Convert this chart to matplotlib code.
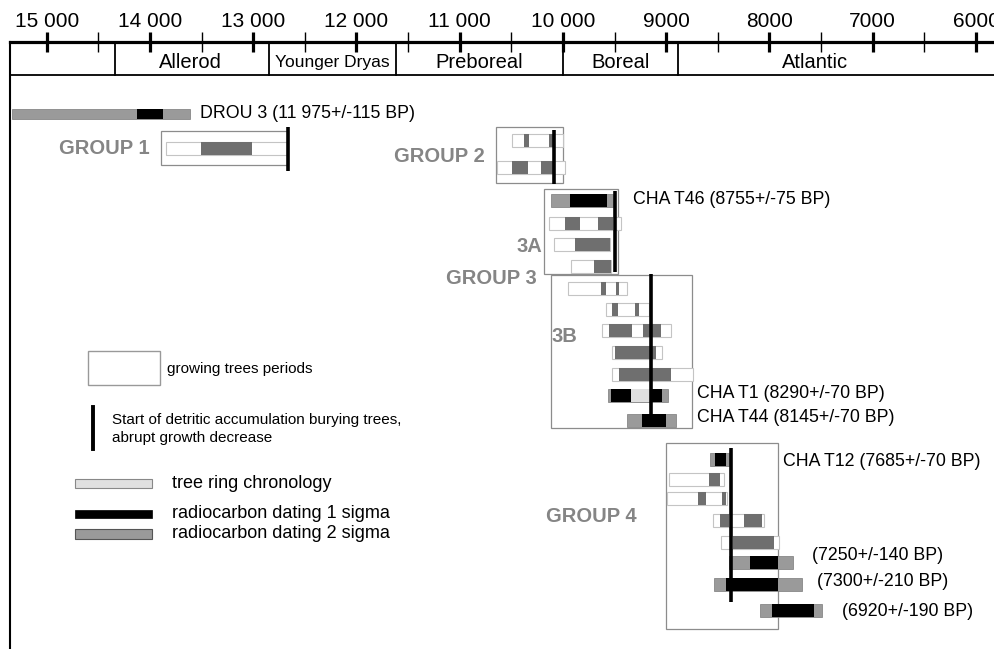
import matplotlib
matplotlib.use("Agg")
import matplotlib.pyplot as plt
from matplotlib.patches import Rectangle
from matplotlib.lines import Line2D

plt.rcParams['font.family'] = ['Liberation Sans', 'DejaVu Sans']

# -- time axis (years BP)
major_ticks = [15000, 14000, 13000, 12000, 11000, 10000, 9000, 8000, 7000, 6000]
major_labels = ["15 000", "14 000", "13 000", "12 000", "11 000", "10 000",
                "9000", "8000", "7000", "6000"]
minor_ticks = [14500, 13500, 12500, 11500, 10500, 9500, 8500, 7500, 6500]

period_names = ["Allerod", "Younger Dryas", "Preboreal", "Boreal", "Atlantic"]
period_bounds = [14340, 12850, 11620, 10000, 8890]
period_mid = [13610, 12235, 10810, 9440, 7560]

# -- samples: (track, start BP, end BP); track = row position from top
growth_bars = [
    (148.5, 13844, 12663),
    (140, 10494, 10000), (167, 10639, 9981),
    (223.5, 10136, 9438), (244, 10087, 9545), (266, 9922, 9535),
    (288, 9951, 9380), (309, 9584, 9167), (330.5, 9622, 8954),
    (352.5, 9525, 9041), (374, 9525, 8741),
    (479.5, 8973, 8441), (498.5, 8993, 8412), (520, 8547, 8053),
    (542.5, 8470, 7908),
]
growth_dark = [
    (148.5, 13506, 13012),
    (140, 10378, 10329), (140, 10136, 10087),
    (167, 10494, 10339), (167, 10213, 10087),
    (223.5, 9981, 9835), (223.5, 9661, 9516),
    (244, 9884, 9545),
    (266, 9700, 9535),
    (288, 9632, 9584), (288, 9487, 9458),
    (309, 9525, 9467), (309, 9303, 9264),
    (330.5, 9554, 9332), (330.5, 9225, 9051),
    (352.5, 9496, 9099),
    (374, 9458, 8954),
    (479.5, 8586, 8480),
    (498.5, 8693, 8615), (498.5, 8460, 8421),
    (520, 8480, 8392), (520, 8247, 8073),
    (542.5, 8354, 7957),
]
sigma2 = [
    (114, 15340, 13612), (200, 10116, 9516), (395.5, 9564, 8983),
    (420, 9380, 8906), (459.5, 8576, 8392), (562.5, 8392, 7772),
    (584, 8538, 7685), (610, 8092, 7492),
]
sigma1 = [
    (114, 14125, 13874), (200, 9932, 9574), (395.5, 9535, 9041),
    (420, 9235, 9002), (459.5, 8528, 8421), (562.5, 8189, 7918),
    (584, 8421, 7918), (610, 7976, 7569),
]
tree_ring = [(395.5, 9341, 9157)]

# start of detritic accumulation: (BP, track top, track bottom)
burial = [(12663, 127, 171), (10087, 130, 184), (9496, 191, 272),
          (9148, 274, 422), (8373, 448, 602)]

# group boxes: (start BP, end BP, track top, track bottom)
group_boxes = [(13893, 12663, 131, 165), (10649, 10000, 127, 183),
               (10184, 9467, 189, 274), (10116, 8751, 275, 428),
               (9003, 7918, 443, 629)]

# group labels: (text, BP, track, align)
group_labels = [("GROUP 1", 14000, 148, "right"), ("GROUP 2", 10755, 157, "right"),
                ("3A", 10203, 246, "right"), ("GROUP 3", 10252, 278, "right"),
                ("3B", 10107, 337, "left"), ("GROUP 4", 9283, 517, "right")]

# sample labels: (text, BP, track)
sample_labels = [("DROU 3 (11 975+/-115 BP)", 13515, 114),
                 ("CHA T46 (8755+/-75 BP)", 9322, 200),
                 ("CHA T1 (8290+/-70 BP)", 8702, 394),
                 ("CHA T44 (8145+/-70 BP)", 8702, 417),
                 ("CHA T12 (7685+/-70 BP)", 7869, 462),
                 ("(7250+/-140 BP)", 7589, 555),
                 ("(7300+/-210 BP)", 7540, 582),
                 ("(6920+/-190 BP)", 7298, 612)]

W, H = 995, 649
fig = plt.figure(figsize=(W / 100, H / 100), dpi=100)
ax = fig.add_axes([10 / W, 0, 1 - 10 / W, (H - 42) / H])
ax.set_xlim(15355, 5816)
ax.set_ylim(649, 42)

for s in ['right', 'bottom']:
    ax.spines[s].set_visible(False)
ax.spines['top'].set_linewidth(2.3)
ax.spines['left'].set_linewidth(1.5)

ax.xaxis.set_ticks_position('top')
ax.set_xticks(major_ticks, major_labels)
ax.set_xticks(minor_ticks, minor=True)
ax.tick_params(axis='x', which='major', direction='inout', length=14, width=2.3,
               labelsize=15, pad=1)
ax.tick_params(axis='x', which='minor', direction='inout', length=14, width=1)
ax.set_yticks([])

# chrono zones band
ax.axhline(75, color='black', lw=1.3)
for b in period_bounds:
    ax.plot([b, b], [42, 75], color='black', lw=1.3)
for name, m in zip(period_names, period_mid):
    ax.text(m, 63, name, ha='center', va='center',
            fontsize=12.5 if name == "Younger Dryas" else 14.5)

H_BAR = 13


def bars(rows, h, **kw):
    for y, a, b in rows:
        ax.barh(y, abs(b - a), left=min(a, b), height=h, **kw)


# group boxes
for a, b, t, btm in group_boxes:
    ax.add_patch(Rectangle((min(a, b), t), abs(b - a), btm - t, fill=False,
                           edgecolor='#8c8c8c', lw=0.9, zorder=1))

bars(growth_bars, H_BAR, color='white', edgecolor='#c4c4c4', lw=0.8, zorder=2)
bars(growth_dark, H_BAR, color='#6f6f6f', lw=0, zorder=3)
bars(sigma2[:1], 10, color='#9a9a9a', edgecolor='#7a7a7a', lw=0.5, zorder=2)
bars(sigma1[:1], 10, color='black', lw=0, zorder=3)
bars(sigma2[1:], H_BAR, color='#9a9a9a', edgecolor='#7a7a7a', lw=0.5, zorder=2)
bars(sigma1[1:], H_BAR, color='black', lw=0, zorder=3)
bars(tree_ring, H_BAR, color='#e0e0e0', lw=0, zorder=4)

for x, t, btm in burial:
    ax.plot([x, x], [t, btm], color='black', lw=2.6, zorder=5, solid_capstyle='butt')

for txt, x, y, al in group_labels:
    ax.text(x, y, txt, ha=al, va='center', fontsize=14.5, fontweight='bold',
            color='#858585')
for txt, x, y in sample_labels:
    ax.text(x, y, txt, ha='left', va='center', fontsize=12.8)


# legend (figure pixel coordinates)
def fx(x):
    return x / W


def fy(y):
    return 1 - y / H


def lg_rect(x0, x1, y0, y1, **kw):
    fig.patches.append(Rectangle((fx(x0), fy(y1)), fx(x1) - fx(x0), fy(y0) - fy(y1),
                                 transform=fig.transFigure, **kw))


lg_rect(88, 160, 351, 385, facecolor='white', edgecolor='#999999', lw=1)
fig.text(fx(167), fy(369), "growing trees periods", fontsize=11, va='center')
fig.lines.append(Line2D([fx(93), fx(93)], [fy(407), fy(449)], color='black', lw=2.8,
                        transform=fig.transFigure))
fig.text(fx(112), fy(429), "Start of detritic accumulation burying trees,\nabrupt growth decrease",
         fontsize=11, va='center', linespacing=1.4)
lg_rect(75, 152, 479, 488, facecolor='#e0e0e0', edgecolor='#888888', lw=0.8)
fig.text(fx(172), fy(484), "tree ring chronology", fontsize=13, va='center')
lg_rect(75, 152, 510, 518, facecolor='black', edgecolor='black', lw=0.5)
fig.text(fx(172), fy(514), "radiocarbon dating 1 sigma", fontsize=13, va='center')
lg_rect(75, 152, 529, 539, facecolor='#9a9a9a', edgecolor='#555555', lw=0.8)
fig.text(fx(172), fy(534), "radiocarbon dating 2 sigma", fontsize=13, va='center')

fig.savefig("out.png", dpi=100)
